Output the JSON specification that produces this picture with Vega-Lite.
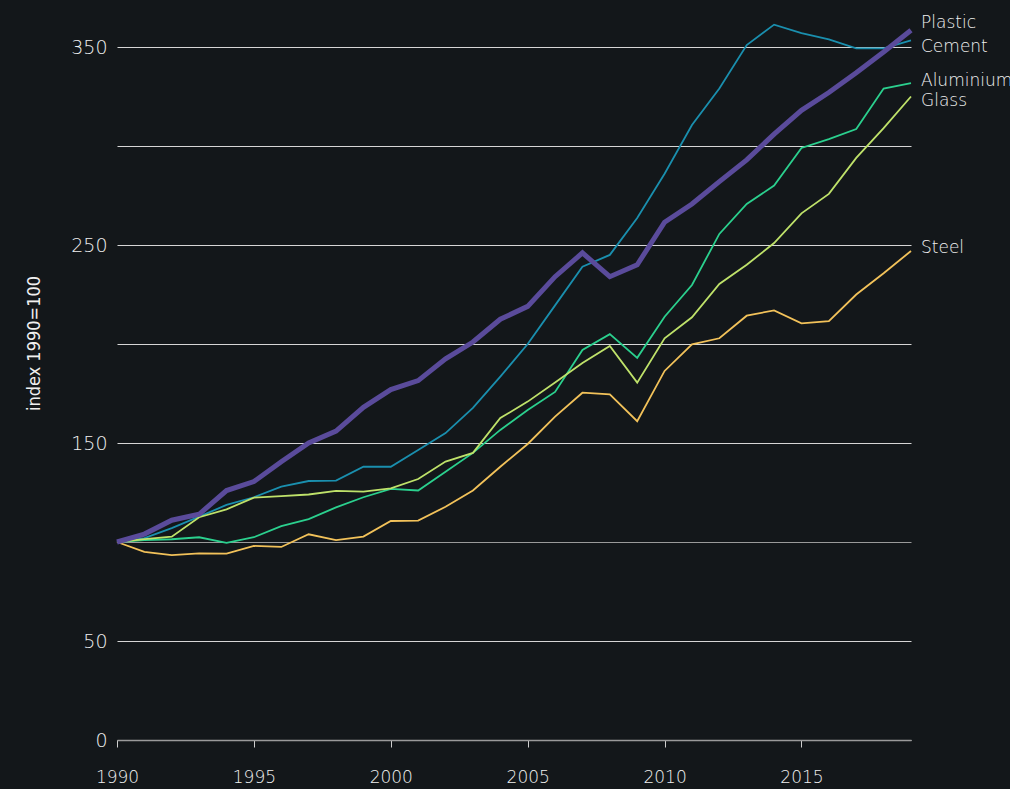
{
  "$schema": "https://vega.github.io/schema/vega-lite/v6.json",
  "autosize": "none",
  "width": 794,
  "height": 693,
  "padding": {"left": 117, "top": 47, "right": 99, "bottom": 49},
  "background": "#13171a",
  "config": {
    "view": {"stroke": null},
    "font": "DejaVu Sans",
    "axis": {"labelColor": "#f0f0f0", "titleColor": "#f0f0f0", "labelFont": "DejaVu Sans", "titleFont": "DejaVu Sans Condensed", "labelFontWeight": 300, "titleFontWeight": 300}
  },
  "datasets": {
    "series": [
      {"year": 1990, "material": "Plastic", "value": 100},
      {"year": 1991, "material": "Plastic", "value": 104},
      {"year": 1992, "material": "Plastic", "value": 111},
      {"year": 1993, "material": "Plastic", "value": 114},
      {"year": 1994, "material": "Plastic", "value": 126},
      {"year": 1995, "material": "Plastic", "value": 130.5},
      {"year": 1996, "material": "Plastic", "value": 140.5},
      {"year": 1997, "material": "Plastic", "value": 150},
      {"year": 1998, "material": "Plastic", "value": 156},
      {"year": 1999, "material": "Plastic", "value": 168},
      {"year": 2000, "material": "Plastic", "value": 177},
      {"year": 2001, "material": "Plastic", "value": 181.5},
      {"year": 2002, "material": "Plastic", "value": 192.5},
      {"year": 2003, "material": "Plastic", "value": 201},
      {"year": 2004, "material": "Plastic", "value": 212.5},
      {"year": 2005, "material": "Plastic", "value": 219},
      {"year": 2006, "material": "Plastic", "value": 234},
      {"year": 2007, "material": "Plastic", "value": 246},
      {"year": 2008, "material": "Plastic", "value": 234},
      {"year": 2009, "material": "Plastic", "value": 240},
      {"year": 2010, "material": "Plastic", "value": 261.5},
      {"year": 2011, "material": "Plastic", "value": 270.7},
      {"year": 2012, "material": "Plastic", "value": 282},
      {"year": 2013, "material": "Plastic", "value": 293},
      {"year": 2014, "material": "Plastic", "value": 306},
      {"year": 2015, "material": "Plastic", "value": 318},
      {"year": 2016, "material": "Plastic", "value": 327},
      {"year": 2017, "material": "Plastic", "value": 337},
      {"year": 2018, "material": "Plastic", "value": 347.5},
      {"year": 2019, "material": "Plastic", "value": 358.5},
      {"year": 1990, "material": "Cement", "value": 100},
      {"year": 1991, "material": "Cement", "value": 102},
      {"year": 1992, "material": "Cement", "value": 107},
      {"year": 1993, "material": "Cement", "value": 112.8},
      {"year": 1994, "material": "Cement", "value": 118.7},
      {"year": 1995, "material": "Cement", "value": 122.6},
      {"year": 1996, "material": "Cement", "value": 128},
      {"year": 1997, "material": "Cement", "value": 130.8},
      {"year": 1998, "material": "Cement", "value": 131},
      {"year": 1999, "material": "Cement", "value": 138},
      {"year": 2000, "material": "Cement", "value": 138},
      {"year": 2001, "material": "Cement", "value": 146.5},
      {"year": 2002, "material": "Cement", "value": 155},
      {"year": 2003, "material": "Cement", "value": 167.7},
      {"year": 2004, "material": "Cement", "value": 183.5},
      {"year": 2005, "material": "Cement", "value": 200},
      {"year": 2006, "material": "Cement", "value": 219.5},
      {"year": 2007, "material": "Cement", "value": 239},
      {"year": 2008, "material": "Cement", "value": 245},
      {"year": 2009, "material": "Cement", "value": 263.6},
      {"year": 2010, "material": "Cement", "value": 286},
      {"year": 2011, "material": "Cement", "value": 310.6},
      {"year": 2012, "material": "Cement", "value": 329},
      {"year": 2013, "material": "Cement", "value": 351},
      {"year": 2014, "material": "Cement", "value": 361.3},
      {"year": 2015, "material": "Cement", "value": 357},
      {"year": 2016, "material": "Cement", "value": 353.8},
      {"year": 2017, "material": "Cement", "value": 349.3},
      {"year": 2018, "material": "Cement", "value": 349.3},
      {"year": 2019, "material": "Cement", "value": 353.3},
      {"year": 1990, "material": "Aluminium", "value": 100},
      {"year": 1991, "material": "Aluminium", "value": 101},
      {"year": 1992, "material": "Aluminium", "value": 101.4},
      {"year": 1993, "material": "Aluminium", "value": 102.4},
      {"year": 1994, "material": "Aluminium", "value": 99.6},
      {"year": 1995, "material": "Aluminium", "value": 102.4},
      {"year": 1996, "material": "Aluminium", "value": 108},
      {"year": 1997, "material": "Aluminium", "value": 111.6},
      {"year": 1998, "material": "Aluminium", "value": 117.5},
      {"year": 1999, "material": "Aluminium", "value": 122.6},
      {"year": 2000, "material": "Aluminium", "value": 126.8},
      {"year": 2001, "material": "Aluminium", "value": 126},
      {"year": 2002, "material": "Aluminium", "value": 135.5},
      {"year": 2003, "material": "Aluminium", "value": 145},
      {"year": 2004, "material": "Aluminium", "value": 156.6},
      {"year": 2005, "material": "Aluminium", "value": 166.7},
      {"year": 2006, "material": "Aluminium", "value": 175.8},
      {"year": 2007, "material": "Aluminium", "value": 197},
      {"year": 2008, "material": "Aluminium", "value": 205},
      {"year": 2009, "material": "Aluminium", "value": 193},
      {"year": 2010, "material": "Aluminium", "value": 213.8},
      {"year": 2011, "material": "Aluminium", "value": 229.8},
      {"year": 2012, "material": "Aluminium", "value": 255.6},
      {"year": 2013, "material": "Aluminium", "value": 270.7},
      {"year": 2014, "material": "Aluminium", "value": 280},
      {"year": 2015, "material": "Aluminium", "value": 299},
      {"year": 2016, "material": "Aluminium", "value": 303.5},
      {"year": 2017, "material": "Aluminium", "value": 308.6},
      {"year": 2018, "material": "Aluminium", "value": 329},
      {"year": 2019, "material": "Aluminium", "value": 331.8},
      {"year": 1990, "material": "Glass", "value": 100},
      {"year": 1991, "material": "Glass", "value": 101.4},
      {"year": 1992, "material": "Glass", "value": 102.7},
      {"year": 1993, "material": "Glass", "value": 112.5},
      {"year": 1994, "material": "Glass", "value": 116.5},
      {"year": 1995, "material": "Glass", "value": 122.4},
      {"year": 1996, "material": "Glass", "value": 123.2},
      {"year": 1997, "material": "Glass", "value": 124},
      {"year": 1998, "material": "Glass", "value": 125.8},
      {"year": 1999, "material": "Glass", "value": 125.4},
      {"year": 2000, "material": "Glass", "value": 127.1},
      {"year": 2001, "material": "Glass", "value": 131.8},
      {"year": 2002, "material": "Glass", "value": 140.6},
      {"year": 2003, "material": "Glass", "value": 145},
      {"year": 2004, "material": "Glass", "value": 162.6},
      {"year": 2005, "material": "Glass", "value": 170.9},
      {"year": 2006, "material": "Glass", "value": 180.6},
      {"year": 2007, "material": "Glass", "value": 190.4},
      {"year": 2008, "material": "Glass", "value": 199},
      {"year": 2009, "material": "Glass", "value": 180.5},
      {"year": 2010, "material": "Glass", "value": 202.9},
      {"year": 2011, "material": "Glass", "value": 213.5},
      {"year": 2012, "material": "Glass", "value": 230.3},
      {"year": 2013, "material": "Glass", "value": 240},
      {"year": 2014, "material": "Glass", "value": 251},
      {"year": 2015, "material": "Glass", "value": 266},
      {"year": 2016, "material": "Glass", "value": 275.8},
      {"year": 2017, "material": "Glass", "value": 294},
      {"year": 2018, "material": "Glass", "value": 309},
      {"year": 2019, "material": "Glass", "value": 325},
      {"year": 1990, "material": "Steel", "value": 100},
      {"year": 1991, "material": "Steel", "value": 95},
      {"year": 1992, "material": "Steel", "value": 93.4},
      {"year": 1993, "material": "Steel", "value": 94.3},
      {"year": 1994, "material": "Steel", "value": 94.1},
      {"year": 1995, "material": "Steel", "value": 98},
      {"year": 1996, "material": "Steel", "value": 97.5},
      {"year": 1997, "material": "Steel", "value": 103.9},
      {"year": 1998, "material": "Steel", "value": 101},
      {"year": 1999, "material": "Steel", "value": 102.7},
      {"year": 2000, "material": "Steel", "value": 110.6},
      {"year": 2001, "material": "Steel", "value": 110.8},
      {"year": 2002, "material": "Steel", "value": 117.8},
      {"year": 2003, "material": "Steel", "value": 126},
      {"year": 2004, "material": "Steel", "value": 138},
      {"year": 2005, "material": "Steel", "value": 149.5},
      {"year": 2006, "material": "Steel", "value": 163.3},
      {"year": 2007, "material": "Steel", "value": 175.4},
      {"year": 2008, "material": "Steel", "value": 174.6},
      {"year": 2009, "material": "Steel", "value": 161},
      {"year": 2010, "material": "Steel", "value": 186.4},
      {"year": 2011, "material": "Steel", "value": 199.8},
      {"year": 2012, "material": "Steel", "value": 202.9},
      {"year": 2013, "material": "Steel", "value": 214.3},
      {"year": 2014, "material": "Steel", "value": 217},
      {"year": 2015, "material": "Steel", "value": 210.4},
      {"year": 2016, "material": "Steel", "value": 211.6},
      {"year": 2017, "material": "Steel", "value": 225},
      {"year": 2018, "material": "Steel", "value": 235.7},
      {"year": 2019, "material": "Steel", "value": 247}
    ],
    "labels": [
      {"year": 2019, "material": "Plastic", "value": 362},
      {"year": 2019, "material": "Cement", "value": 350},
      {"year": 2019, "material": "Aluminium", "value": 333},
      {"year": 2019, "material": "Glass", "value": 322.7},
      {"year": 2019, "material": "Steel", "value": 248.5}
    ]
  },
  "layer": [
    {
      "data": {"name": "series"},
      "transform": [{"filter": "datum.material !== 'Plastic'"}],
      "mark": {"type": "line", "strokeWidth": 1.8, "clip": false},
      "encoding": {
        "x": {
          "field": "year", "type": "quantitative",
          "scale": {"domain": [1990, 2019], "nice": false, "zero": false},
          "axis": {
            "title": null, "values": [1990, 1995, 2000, 2005, 2010, 2015],
            "format": "d", "grid": false, "domainColor": "#9a9a9a", "domainWidth": 1.5,
            "tickColor": "#cfcfcf", "tickSize": 7, "labelFontSize": 17,
            "labelPadding": 22, "labelFlush": false
          }
        },
        "y": {
          "field": "value", "type": "quantitative",
          "scale": {"domain": [0, 350], "nice": false},
          "axis": {
            "title": "index 1990=100", "titleFontSize": 18, "titlePadding": 27, "titleY": 296,
            "values": [0, 50, 100, 150, 200, 250, 300, 350],
            "labelExpr": "(datum.value % 100 === 0 && datum.value > 0) ? '' : datum.label",
            "domain": false, "ticks": false, "labelPadding": 10, "labelFontSize": 19,
            "grid": true, "gridWidth": 1,
            "gridColor": {"condition": {"test": "datum.value === 100", "value": "#9a9a9a"}, "value": "#d6d6d6"}
          }
        },
        "color": {
          "field": "material", "type": "nominal",
          "scale": {"domain": ["Plastic", "Cement", "Aluminium", "Glass", "Steel"], "range": ["#5a4b9b", "#1a8fae", "#2bd08e", "#bfe26a", "#f2c25a"]},
          "legend": null
        },
        "order": {"field": "year", "type": "quantitative"}
      }
    },
    {
      "data": {"name": "series"},
      "transform": [{"filter": "datum.material === 'Plastic'"}],
      "mark": {"type": "line", "strokeWidth": 5, "clip": false, "strokeJoin": "miter"},
      "encoding": {
        "x": {"field": "year", "type": "quantitative"},
        "y": {"field": "value", "type": "quantitative"},
        "color": {"field": "material", "type": "nominal", "legend": null},
        "order": {"field": "year", "type": "quantitative"}
      }
    },
    {
      "data": {"name": "labels"},
      "mark": {"type": "text", "align": "left", "baseline": "middle", "dx": 10, "fontSize": 17, "font": "DejaVu Sans", "fontWeight": 300, "color": "#f0f0f0", "clip": false},
      "encoding": {
        "x": {"field": "year", "type": "quantitative"},
        "y": {"field": "value", "type": "quantitative"},
        "text": {"field": "material"}
      }
    }
  ]
}
